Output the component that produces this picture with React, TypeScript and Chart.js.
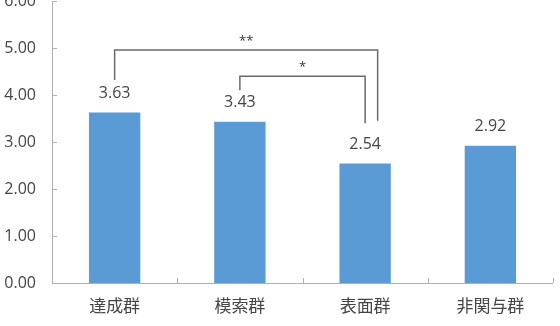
import React, { useEffect, useRef } from "react";
import { Chart, registerables } from "chart.js";

Chart.register(...registerables);

const categories = ["達成群", "模索群", "表面群", "非関与群"];
const values = [3.63, 3.43, 2.54, 2.92];
const yTicks = [0, 1, 2, 3, 4, 5, 6];
// significance brackets (in category index / value units)
const bracketFrom = [0, 1];
const bracketTo = [2.1, 2.0];
const bracketTop = [4.96, 4.4];
const bracketLeftEnd = [4.32, 4.1];
const bracketRightEnd = [3.45, 3.4];
const bracketLabels = ["**", "*"];

const NUM_FONT = "'Open Sans', 'Noto Sans', sans-serif";
const CJK_FONT = "'Noto Sans CJK JP', sans-serif";
const TEXT = "#454545";
const AXIS = "#B0B0B0";

export default function App() {
  const ref = useRef<HTMLCanvasElement | null>(null);
  useEffect(() => {
    if (!ref.current) return;
    const overlay = {
      id: "overlay",
      afterDatasetsDraw(chart: any) {
        const ctx = chart.ctx;
        const xs = chart.scales.x;
        const ys = chart.scales.y;
        const area = chart.chartArea;
        ctx.save();
        ctx.strokeStyle = AXIS;
        ctx.lineWidth = 1;
        ctx.beginPath();
        ctx.moveTo(area.left + 0.5, area.top);
        ctx.lineTo(area.left + 0.5, area.bottom + 0.5);
        ctx.lineTo(area.right, area.bottom + 0.5);
        ctx.stroke();
        ctx.beginPath();
        yTicks.forEach((v) => {
          const y = Math.round(ys.getPixelForValue(v)) + 0.5;
          ctx.moveTo(area.left, y);
          ctx.lineTo(area.left + 5, y);
        });
        for (let i = 0; i <= categories.length; i++) {
          const x = Math.round(xs.getPixelForValue(i - 0.5)) + 0.5;
          ctx.moveTo(x, area.bottom);
          ctx.lineTo(x, area.bottom - 5);
        }
        ctx.stroke();
        ctx.fillStyle = TEXT;
        ctx.font = `16px ${NUM_FONT}`;
        ctx.textAlign = "center";
        ctx.textBaseline = "middle";
        values.forEach((v, i) => {
          ctx.fillText(v.toFixed(2), xs.getPixelForValue(i), ys.getPixelForValue(v) - 19);
        });
        ctx.strokeStyle = "#6a6a6a";
        ctx.lineWidth = 1.5;
        bracketFrom.forEach((from, k) => {
          const x1 = xs.getPixelForValue(from);
          const x2 = xs.getPixelForValue(bracketTo[k]);
          const yt = ys.getPixelForValue(bracketTop[k]);
          ctx.beginPath();
          ctx.moveTo(x1, ys.getPixelForValue(bracketLeftEnd[k]));
          ctx.lineTo(x1, yt);
          ctx.lineTo(x2, yt);
          ctx.lineTo(x2, ys.getPixelForValue(bracketRightEnd[k]));
          ctx.stroke();
          ctx.fillStyle = "#333";
          ctx.font = `13px ${NUM_FONT}`;
          ctx.fillText(bracketLabels[k], (x1 + x2) / 2, yt - 9);
        });
        ctx.restore();
      },
    };
    const chart = new Chart(ref.current, {
      type: "bar",
      data: {
        labels: categories,
        datasets: [
          {
            data: values,
            backgroundColor: "#5B9BD5",
            barPercentage: 0.41,
            categoryPercentage: 1,
          },
        ],
      },
      options: {
        animation: false,
        responsive: false,
        maintainAspectRatio: false,
        layout: { padding: { top: 1, right: 7, left: 0, bottom: 0 } },
        plugins: { legend: { display: false }, tooltip: { enabled: false } },
        scales: {
          x: {
            grid: { display: false, drawTicks: false },
            border: { display: false },
            ticks: { color: TEXT, font: { family: CJK_FONT, size: 17 }, padding: 12 },
            afterFit: (s: any) => {
              s.height = 43;
              s.paddingLeft = 0;
              s.paddingRight = 0;
            },
          },
          y: {
            min: 0,
            max: 6,
            grid: { display: false, drawTicks: false },
            border: { display: false },
            ticks: {
              stepSize: 1,
              color: TEXT,
              font: { family: NUM_FONT, size: 16 },
              padding: 16,
              callback: (v: any) => Number(v).toFixed(2),
            },
            afterFit: (s: any) => {
              s.width = 52;
              s.paddingTop = 0;
              s.paddingBottom = 0;
            },
          },
        },
      },
      plugins: [overlay],
    });
    return () => chart.destroy();
  }, []);
  return (
    <div style={{ position: "absolute", left: 0, top: 0, width: 560, height: 326, background: "#fff" }}>
      <canvas ref={ref} width={560} height={326} />
    </div>
  );
}
